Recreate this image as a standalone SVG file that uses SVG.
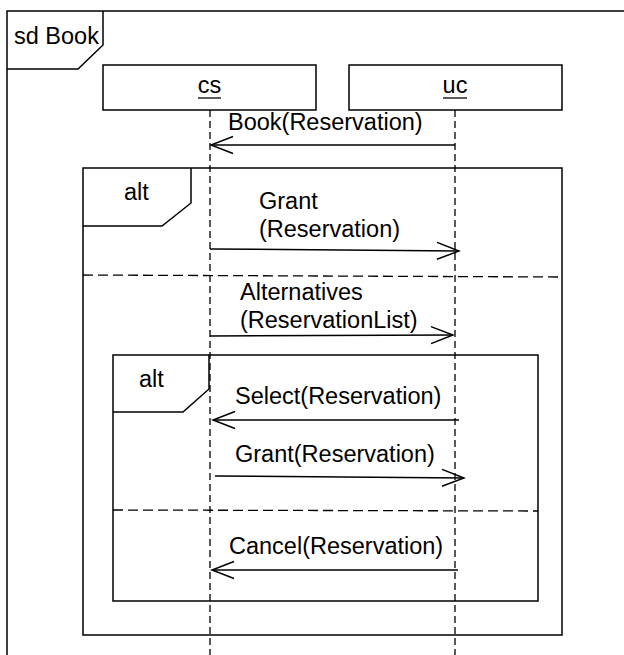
<svg xmlns="http://www.w3.org/2000/svg" width="624" height="655" viewBox="0 0 624 655">
<style>
text{font-family:"Liberation Sans",Arial,sans-serif;font-size:23.5px;fill:#000}
.frame{fill:none;stroke:#000;stroke-width:1.5}
.life{fill:none;stroke:#000;stroke-width:1.3;stroke-dasharray:7 4}
.div{fill:none;stroke:#000;stroke-width:1.3;stroke-dasharray:10 5}
.msg{fill:none;stroke:#000;stroke-width:1.5;marker-end:url(#open)}
</style>
<defs>
<marker id="open" viewBox="0 0 25 20" refX="23" refY="10" markerWidth="25" markerHeight="20" markerUnits="userSpaceOnUse" orient="auto">
<path d="M1,1.5 L23,10 L1,18.5" fill="none" stroke="#000" stroke-width="1.5"/>
</marker>
</defs>
<rect width="624" height="655" fill="#fff"/>
<g id="sd-frame">
<path class="frame" d="M7,660 V11 H630"/>
<path class="frame" d="M7,69 H78 L103,45 V11"/>
<text x="14" y="44">sd Book</text>
</g>
<g id="lifelines">
<path class="life" d="M210,110 V655"/>
<path class="life" d="M455,110 V655"/>
</g>
<g id="cs">
<rect class="frame" x="103" y="65" width="213" height="45" fill="#fff"/>
<text x="209.5" y="93" text-anchor="middle">cs</text>
<line x1="198" y1="98" x2="221" y2="98" stroke="#000" stroke-width="1.3"/>
</g>
<g id="uc">
<rect class="frame" x="349" y="65" width="213" height="45" fill="#fff"/>
<text x="455" y="93" text-anchor="middle">uc</text>
<line x1="443" y1="98" x2="467" y2="98" stroke="#000" stroke-width="1.3"/>
</g>
<g id="alt-outer">
<rect class="frame" x="83" y="168" width="479" height="467"/>
<path class="frame" d="M83,226 H162 L191,203 V168"/>
<text x="124" y="200">alt</text>
<path class="div" d="M83,275 L562,277"/>
</g>
<g id="alt-inner">
<rect class="frame" x="113" y="355" width="425" height="246"/>
<path class="frame" d="M113,412 H183 L209,389 V355"/>
<text x="139" y="387">alt</text>
<path class="div" d="M113,510 L538,511"/>
</g>
<g id="connectors">
<path class="msg" d="M455,145 H211"/>
<path class="msg" d="M210,249 L459,251"/>
<path class="msg" d="M210,336 L453,335"/>
<path class="msg" d="M459,420 H213"/>
<path class="msg" d="M215,476 L464,478"/>
<path class="msg" d="M458,570 H212"/>
</g>
<g id="labels">
<text x="228" y="130">Book(Reservation)</text>
<text x="259" y="209">Grant</text>
<text x="259" y="237">(Reservation)</text>
<text x="240" y="300">Alternatives</text>
<text x="240" y="328">(ReservationList)</text>
<text x="235" y="404">Select(Reservation)</text>
<text x="235" y="462">Grant(Reservation)</text>
<text x="229" y="554">Cancel(Reservation)</text>
</g>
</svg>
